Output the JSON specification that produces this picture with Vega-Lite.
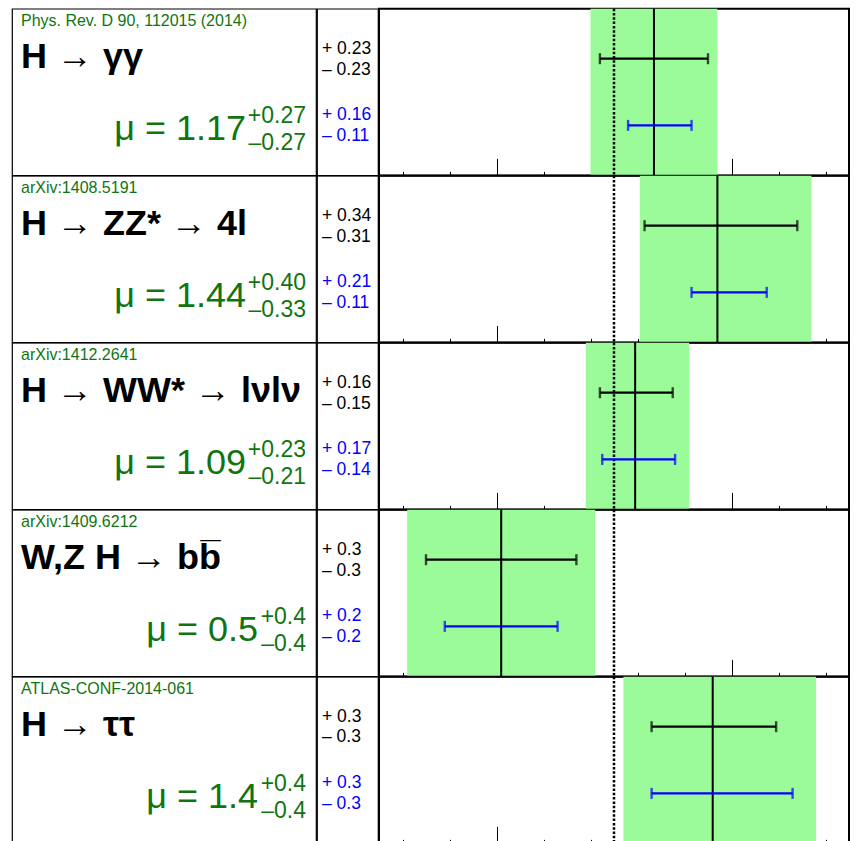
{
  "$schema": "https://vega.github.io/schema/vega-lite/v6.json",
  "padding": {"left": 11, "top": 5.7, "right": 0, "bottom": 0},
  "background": "white",
  "datasets": {
    "channels": [
      {"channel": 1, "ref": "Phys. Rev. D 90, 112015 (2014)", "process": "H → γγ", "digits": 2},
      {"channel": 2, "ref": "arXiv:1408.5191", "process": "H → ZZ* → 4l", "digits": 2},
      {"channel": 3, "ref": "arXiv:1412.2641", "process": "H → WW* → lνlν", "digits": 2},
      {"channel": 4, "ref": "arXiv:1409.6212", "process": "W,Z H → bb̅", "digits": 1},
      {"channel": 5, "ref": "ATLAS-CONF-2014-061", "process": "H → ττ", "digits": 1}
    ],
    "measurements": [
      {"channel": 1, "kind": "total", "mu": 1.17, "up": 0.27, "dn": -0.27},
      {"channel": 1, "kind": "stat", "mu": 1.17, "up": 0.23, "dn": -0.23},
      {"channel": 1, "kind": "syst", "mu": 1.17, "up": 0.16, "dn": -0.11},
      {"channel": 2, "kind": "total", "mu": 1.44, "up": 0.40, "dn": -0.33},
      {"channel": 2, "kind": "stat", "mu": 1.44, "up": 0.34, "dn": -0.31},
      {"channel": 2, "kind": "syst", "mu": 1.44, "up": 0.21, "dn": -0.11},
      {"channel": 3, "kind": "total", "mu": 1.09, "up": 0.23, "dn": -0.21},
      {"channel": 3, "kind": "stat", "mu": 1.09, "up": 0.16, "dn": -0.15},
      {"channel": 3, "kind": "syst", "mu": 1.09, "up": 0.17, "dn": -0.14},
      {"channel": 4, "kind": "total", "mu": 0.52, "up": 0.40, "dn": -0.40},
      {"channel": 4, "kind": "stat", "mu": 0.52, "up": 0.32, "dn": -0.32},
      {"channel": 4, "kind": "syst", "mu": 0.52, "up": 0.24, "dn": -0.24},
      {"channel": 5, "kind": "total", "mu": 1.42, "up": 0.44, "dn": -0.38},
      {"channel": 5, "kind": "stat", "mu": 1.42, "up": 0.27, "dn": -0.26},
      {"channel": 5, "kind": "syst", "mu": 1.42, "up": 0.34, "dn": -0.26}
    ]
  },
  "spacing": -3.2,
  "hconcat": [
    {
      "data": {"name": "measurements"},
      "transform": [
        {"filter": "datum.kind === 'total'"},
        {"lookup": "channel", "from": {"data": {"name": "channels"}, "key": "channel", "fields": ["ref", "process", "digits"]}},
        {"calculate": "'μ = ' + format(datum.mu, '.' + datum.digits + 'f')", "as": "mu_text"},
        {"calculate": "'+' + format(datum.up, '.' + datum.digits + 'f')", "as": "up_text"},
        {"calculate": "'–' + format(-datum.dn, '.' + datum.digits + 'f')", "as": "dn_text"}
      ],
      "facet": {"row": {"field": "channel", "type": "ordinal", "header": null}},
      "spacing": {"row": 0},
      "bounds": "flush",
      "spec": {
        "width": 304,
        "height": 166.7,
        "view": {"stroke": "black", "strokeWidth": 1.2},
        "layer": [
          {
            "mark": {"type": "text", "align": "left", "baseline": "alphabetic", "x": 9, "y": 17.5, "fontSize": 16, "color": "#107510"},
            "encoding": {"text": {"field": "ref"}}
          },
          {
            "mark": {"type": "text", "align": "left", "baseline": "alphabetic", "x": 9, "y": 59, "fontSize": 36, "fontWeight": "bold", "color": "black"},
            "encoding": {"text": {"field": "process"}}
          },
          {
            "transform": [{"filter": "datum.digits == 2"}],
            "mark": {"type": "text", "align": "right", "baseline": "alphabetic", "x": 234, "y": 131, "fontSize": 36, "color": "#107510"},
            "encoding": {"text": {"field": "mu_text"}}
          },
          {
            "transform": [{"filter": "datum.digits == 1"}],
            "mark": {"type": "text", "align": "right", "baseline": "alphabetic", "x": 246, "y": 131, "fontSize": 36, "color": "#107510"},
            "encoding": {"text": {"field": "mu_text"}}
          },
          {
            "mark": {"type": "text", "align": "right", "baseline": "alphabetic", "x": 294, "y": 114.5, "fontSize": 23, "color": "#107510"},
            "encoding": {"text": {"field": "up_text"}}
          },
          {
            "mark": {"type": "text", "align": "right", "baseline": "alphabetic", "x": 294, "y": 141, "fontSize": 23, "color": "#107510"},
            "encoding": {"text": {"field": "dn_text"}}
          }
        ]
      }
    },
    {
      "data": {"name": "measurements"},
      "transform": [
        {"filter": "datum.kind !== 'total'"},
        {"lookup": "channel", "from": {"data": {"name": "channels"}, "key": "channel", "fields": ["digits"]}},
        {"calculate": "'+ ' + format(datum.up, '.' + datum.digits + 'f')", "as": "up_text"},
        {"calculate": "'– ' + format(-datum.dn, '.' + datum.digits + 'f')", "as": "dn_text"}
      ],
      "facet": {"row": {"field": "channel", "type": "ordinal", "header": null}},
      "spacing": {"row": 0},
      "bounds": "flush",
      "spec": {
        "width": 61,
        "height": 166.7,
        "view": {"stroke": "black", "strokeWidth": 1.2},
        "encoding": {
          "y": {"field": "kind", "type": "nominal", "scale": {"type": "point", "domain": ["stat", "syst"], "padding": 0.75}, "axis": null},
          "color": {"field": "kind", "type": "nominal", "scale": {"domain": ["stat", "syst"], "range": ["black", "#0000ff"]}, "legend": null}
        },
        "layer": [
          {
            "mark": {"type": "text", "align": "left", "baseline": "alphabetic", "x": 5, "dy": -5, "fontSize": 17.5},
            "encoding": {"text": {"field": "up_text"}}
          },
          {
            "mark": {"type": "text", "align": "left", "baseline": "alphabetic", "x": 5, "dy": 15.8, "fontSize": 17.5},
            "encoding": {"text": {"field": "dn_text"}}
          }
        ]
      }
    },
    {
      "data": {"name": "measurements"},
      "transform": [
        {"calculate": "datum.mu + datum.dn", "as": "lo"},
        {"calculate": "datum.mu + datum.up", "as": "hi"}
      ],
      "facet": {"row": {"field": "channel", "type": "ordinal", "header": null}},
      "spacing": {"row": 0},
      "bounds": "flush",
      "resolve": {"axis": {"x": "independent"}},
      "spec": {
        "width": 470,
        "height": 166.7,
        "view": {"stroke": "black", "strokeWidth": 2},
        "layer": [
          {
            "transform": [{"filter": "datum.kind === 'total'"}],
            "mark": {"type": "rect", "color": "#9afb98"},
            "encoding": {
              "x": {
                "field": "lo",
                "type": "quantitative",
                "title": null,
                "scale": {"domain": [0, 2], "nice": false, "zero": false},
                "axis": {
                  "orient": "bottom",
                  "values": [0.1, 0.2, 0.3, 0.4, 0.5, 0.6, 0.7, 0.8, 0.9, 1.0, 1.1, 1.2, 1.3, 1.4, 1.5, 1.6, 1.7, 1.8, 1.9],
                  "labels": false,
                  "domain": false,
                  "grid": false,
                  "title": null,
                  "tickColor": "black",
                  "tickWidth": 1,
                  "tickSize": {"condition": {"test": "abs(datum.value * 2 - round(datum.value * 2)) < 0.001", "value": -17}, "value": -4}
                }
              },
              "x2": {"field": "hi"}
            }
          },
          {
            "transform": [{"filter": "datum.kind === 'total'"}],
            "mark": {"type": "rule", "color": "black", "strokeWidth": 2.5, "strokeDash": [2.5, 1.8]},
            "encoding": {"x": {"datum": 1, "type": "quantitative", "title": null}}
          },
          {
            "transform": [{"filter": "datum.kind === 'total'"}],
            "mark": {"type": "rule", "color": "black", "strokeWidth": 2},
            "encoding": {"x": {"field": "mu", "type": "quantitative", "title": null}}
          },
          {
            "transform": [{"filter": "datum.kind !== 'total'"}],
            "encoding": {
              "y": {"field": "kind", "type": "nominal", "scale": {"type": "point", "domain": ["stat", "syst"], "padding": 0.75}, "axis": null},
              "color": {"field": "kind", "type": "nominal", "scale": {"domain": ["stat", "syst"], "range": ["black", "#0000ff"]}, "legend": null}
            },
            "layer": [
              {
                "mark": {"type": "rule", "strokeWidth": 2.2},
                "encoding": {"x": {"field": "lo", "type": "quantitative", "title": null}, "x2": {"field": "hi"}}
              },
              {
                "mark": {"type": "tick", "orient": "vertical", "size": 11, "thickness": 2.4},
                "encoding": {"x": {"field": "lo", "type": "quantitative", "title": null}}
              },
              {
                "mark": {"type": "tick", "orient": "vertical", "size": 11, "thickness": 2.4},
                "encoding": {"x": {"field": "hi", "type": "quantitative", "title": null}}
              }
            ]
          }
        ]
      }
    }
  ],
  "config": {
    "font": "Liberation Sans",
    "text": {"font": "Liberation Sans"},
    "view": {"stroke": "black", "strokeWidth": 1.2},
    "facet": {"spacing": 0},
    "concat": {"spacing": 0}
  }
}
